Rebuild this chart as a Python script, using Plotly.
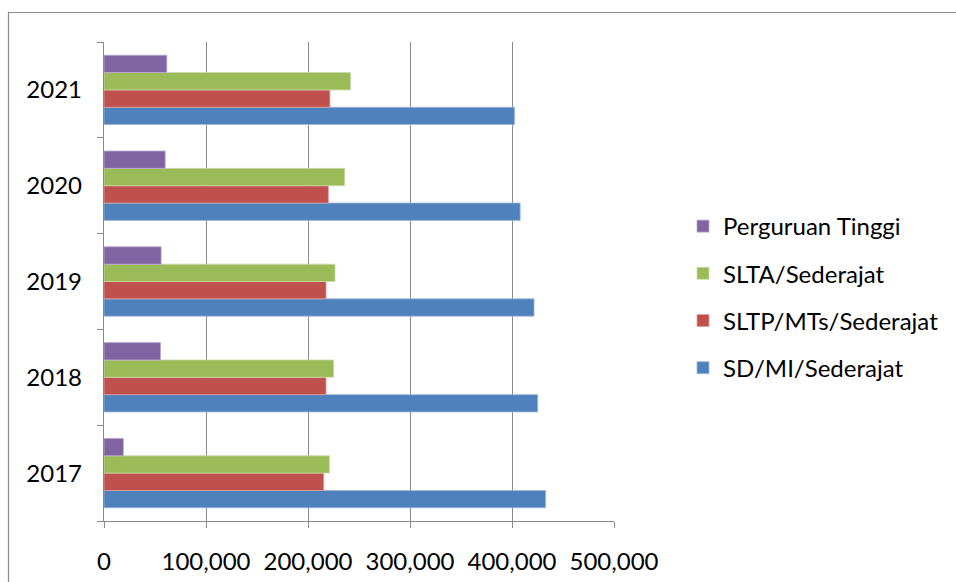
import plotly.graph_objects as go

years = ["2017", "2018", "2019", "2020", "2021"]
sd_mi = [433000, 425200, 421600, 408000, 402500]
sltp = [215400, 217700, 217700, 220000, 221500]
slta = [221000, 225200, 226500, 236000, 241700]
pt = [19000, 55400, 56000, 60000, 61600]

series = [
    ("SD/MI/Sederajat", sd_mi, "#4F81BD", "#9DB9DC"),
    ("SLTP/MTs/Sederajat", sltp, "#C0504D", "#DDA2A0"),
    ("SLTA/Sederajat", slta, "#9BBB59", "#C9DBA6"),
    ("Perguruan Tinggi", pt, "#8064A2", "#B9A9CD"),
]

FONT = "Lato"
fig = go.Figure()
for i, (name, vals, col, edge) in enumerate(series):
    fig.add_trace(go.Bar(
        y=years, x=vals, name=name, orientation="h",
        marker=dict(color=col, line=dict(color=edge, width=0.8)),
        legendgroup=f"g{i}", legendrank=100 - i,
    ))

L, R, T, B = 104, 614, 42, 521
W, H = 956, 582

fig.update_layout(
    width=W, height=H,
    margin=dict(l=L, r=W - R, t=T, b=H - B, pad=0, autoexpand=False),
    paper_bgcolor="white", plot_bgcolor="white",
    barmode="group", bargap=0.276, bargroupgap=0,
    font=dict(family=FONT, size=24, color="#000000"),
    showlegend=True,
    legend=dict(
        traceorder="grouped", xref="container", yref="container",
        x=683 / W, xanchor="left", y=1 - 204 / H, yanchor="top",
        font=dict(family=FONT, size=24, color="#000"),
        tracegroupgap=13, itemwidth=30, bgcolor="rgba(0,0,0,0)",
    ),
    xaxis=dict(
        range=[0, 500000], tickvals=[0, 100000, 200000, 300000, 400000, 500000],
        ticktext=["0", "100,000", "200,000", "300,000", "400,000", "500,000"],
        showgrid=True, gridcolor="#898989", gridwidth=1.3,
        showline=True, linecolor="#898989", linewidth=1.3,
        ticks="outside", ticklen=6, tickcolor="#898989", tickwidth=1.3,
        ticklabelstandoff=13, zeroline=False, fixedrange=True,
    ),
    yaxis=dict(
        type="category", categoryorder="array", categoryarray=years,
        showgrid=False, showline=True, linecolor="#898989", linewidth=1.3,
        ticks="outside", ticklen=6, tickcolor="#898989", tickwidth=1.3,
        tickson="boundaries", ticklabelstandoff=16, fixedrange=True,
    ),
    shapes=[dict(
        type="rect", xref="paper", yref="paper",
        x0=(8.5 - L) / (R - L), x1=3,
        y0=-1, y1=(B - 12.5) / (B - T),
        line=dict(color="#8C8C8C", width=1.2), fillcolor="rgba(0,0,0,0)", layer="below",
    )],
)

fig.write_html("out.html")
